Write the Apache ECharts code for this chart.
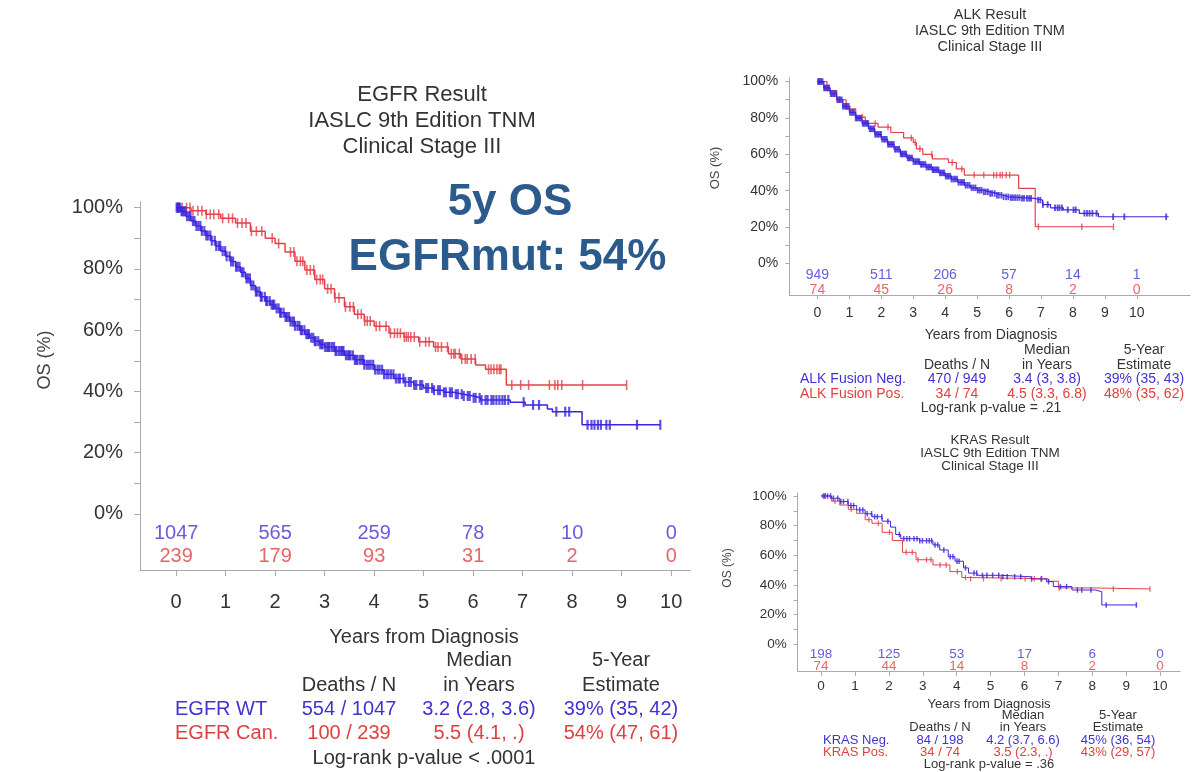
<!DOCTYPE html>
<html>
<head>
<meta charset="utf-8">
<script src="https://cdn.jsdelivr.net/npm/echarts@6/dist/echarts.min.js"></script>
<style>
  html, body { margin: 0; padding: 0; background: #ffffff; }
  #chart { width: 1203px; height: 772px; }
</style>
</head>
<body>
<div id="chart"></div>
<script>
// ---------- Kaplan-Meier step curves: [years, survival %] ----------
const egfrWT = [
  [0,100],[0.1,98.8],[0.2,97.2],[0.3,95.6],[0.4,94],[0.5,92.4],[0.6,90.9],[0.7,89.2],[0.8,87.5],
  [0.9,85.8],[1.0,84.1],[1.1,82.4],[1.2,80.7],[1.3,78.9],[1.4,76.9],[1.5,74.6],[1.6,72.6],[1.7,70.9],
  [1.8,69.5],[1.9,68.3],[2.0,67.1],[2.1,65.7],[2.2,64.3],[2.3,62.8],[2.4,61.4],[2.5,60],[2.6,58.7],
  [2.7,57.5],[2.8,56.4],[2.9,55.4],[3.0,54.5],[3.2,53.2],[3.4,51.8],[3.6,50.3],[3.8,48.7],[4.0,47.1],
  [4.2,45.6],[4.4,44.2],[4.6,43.1],[4.8,42.1],[5.0,41.1],[5.2,40.4],[5.4,39.7],[5.6,39.1],[5.8,38.5],
  [6.0,37.9],[6.15,37.2],[6.75,36.5],[7.05,35.6],[7.5,34.3],[7.6,33.4],[8.2,29.1],[9.78,29.1]
];
const egfrCan = [
  [0,100],[0.3,99],[0.6,97.8],[0.9,96.5],[1.2,95],[1.5,92.3],[1.8,90],[2.0,88.3],[2.2,85.5],
  [2.4,82.5],[2.6,79.6],[2.8,76.5],[3.0,73.5],[3.2,70.6],[3.4,67.6],[3.6,65.2],[3.8,63],[4.0,61.3],
  [4.3,59],[4.6,57.8],[4.9,56.2],[5.2,54.5],[5.5,52.3],[5.75,50.6],[6.05,48.6],[6.25,47.2],
  [6.67,42.1],[9.1,42.1]
];
const alkNeg = [
  [0,100],[0.2,96.5],[0.4,93.3],[0.6,90],[0.8,86.4],[1.0,83],[1.2,79.9],[1.4,77],[1.6,74],[1.8,71],
  [2.0,68.3],[2.2,65.5],[2.4,62.8],[2.6,60.2],[2.8,58],[3.0,56],[3.2,54.5],[3.4,53],[3.6,51.5],
  [3.8,49.8],[4.0,48],[4.2,46.4],[4.4,44.6],[4.6,43],[4.8,41.6],[5.0,40.3],[5.2,39.4],[5.4,38.5],
  [5.6,37.5],[5.8,36.6],[6.0,36.2],[6.4,35.8],[6.8,34.9],[7.05,32.4],[7.3,30.6],[7.7,29.5],
  [8.2,27.6],[8.8,25.7],[11.0,25.7]
];
const alkPos = [
  [0,100],[0.3,95],[0.6,90],[0.9,85],[1.2,80.5],[1.5,77],[1.9,75],[2.3,72],[2.7,69],[3.0,66.5],
  [3.1,63],[3.3,60],[3.6,57.5],[4.1,55.5],[4.35,52],[4.6,48.6],[6.3,41.3],[6.82,20.2],[9.27,20.2]
];
const krasNeg = [
  [0,100],[0.3,98.5],[0.55,96.2],[0.8,93.5],[1.05,90.6],[1.3,88],[1.5,86],[1.8,83],[2.05,79],
  [2.2,74],[2.35,71.2],[2.9,69.8],[3.3,67],[3.5,63.6],[3.75,59],[3.95,56],[4.2,51.5],[4.35,48],
  [4.6,46.5],[5.3,45.5],[6.2,44],[6.65,42.2],[6.85,38.9],[7.4,36.6],[8.1,35.4],[8.28,26.5],[9.3,26.5]
];
const krasPos = [
  [0,100],[0.3,96.5],[0.55,93.9],[0.8,91],[1.05,88.3],[1.3,84],[1.5,81.6],[1.8,75.5],[2.1,70],
  [2.4,62],[2.8,57],[3.3,53.5],[3.8,49],[4.15,45],[4.3,44.2],[6.7,42.5],[7.0,38],[8.0,37.3],[9.7,37.3]
];

// ---------- censoring times (years) ----------
const egfrWTCensor = [0.01,0.03,0.04,0.06,0.08,0.11,0.13,0.16,0.19,0.22,0.26,0.29,0.34,0.37,0.41,0.45,
  0.49,0.52,0.57,0.61,0.64,0.69,0.72,0.78,0.81,0.86,0.89,0.94,0.99,1.02,1.08,1.11,1.15,1.21,1.24,1.28,
  1.33,1.36,1.42,1.45,1.49,1.52,1.56,1.61,1.63,1.68,1.71,1.73,1.79,1.82,1.84,1.89,1.93,1.96,1.98,2.03,
  2.07,2.1,2.12,2.17,2.21,2.24,2.28,2.31,2.35,2.38,2.4,2.45,2.49,2.52,2.54,2.59,2.63,2.66,2.68,2.73,
  2.77,2.8,2.82,2.87,2.91,2.94,2.96,3.01,3.05,3.08,3.1,3.15,3.19,3.22,3.24,3.29,3.33,3.36,3.38,3.43,
  3.47,3.5,3.52,3.57,3.61,3.64,3.66,3.71,3.75,3.78,3.8,3.85,3.89,3.93,3.98,4.02,4.07,4.11,4.16,4.2,
  4.25,4.29,4.34,4.39,4.44,4.49,4.52,4.59,4.63,4.7,4.74,4.81,4.85,4.93,4.97,5.05,5.09,5.17,5.21,5.29,
  5.33,5.41,5.45,5.53,5.57,5.65,5.69,5.77,5.81,5.89,5.93,6.01,6.05,6.13,6.17,6.25,6.29,6.37,6.41,6.47,
  6.53,6.59,6.64,6.71,7.02,7.21,7.33,7.68,7.86,7.94,8.31,8.39,8.45,8.52,8.58,8.69,8.76,9.31,9.78];
const egfrCanCensor = [0.12,0.21,0.28,0.34,0.44,0.52,0.61,0.69,0.76,0.86,0.94,1.06,1.14,1.24,1.33,1.41,
  1.52,1.62,1.73,1.94,2.07,2.31,2.38,2.44,2.51,2.56,2.64,2.71,2.78,2.84,2.91,2.96,3.06,3.13,3.21,3.29,
  3.42,3.51,3.58,3.67,3.74,3.81,3.86,3.92,4.04,4.11,4.24,4.33,4.41,4.47,4.53,4.61,4.65,4.69,4.74,4.81,
  4.92,5.04,5.11,5.24,5.29,5.36,5.48,5.56,5.61,5.64,5.72,5.77,5.84,5.88,5.96,6.04,6.31,6.36,6.42,6.48,
  6.53,6.56,6.78,6.96,7.12,7.54,7.65,7.71,7.79,8.21,9.1];
const alkNegCensor = [0.02,0.05,0.09,0.12,0.16,0.21,0.24,0.29,0.33,0.37,0.42,0.46,0.51,0.54,0.59,0.63,
  0.68,0.71,0.76,0.8,0.85,0.89,0.93,0.98,1.02,1.07,1.11,1.15,1.2,1.24,1.29,1.33,1.37,1.42,1.46,1.51,
  1.55,1.59,1.64,1.68,1.73,1.77,1.81,1.86,1.9,1.95,1.99,2.03,2.08,2.12,2.17,2.21,2.25,2.3,2.34,2.39,
  2.43,2.47,2.52,2.56,2.61,2.65,2.69,2.74,2.78,2.83,2.87,2.91,2.96,3.01,3.06,3.1,3.15,3.19,3.24,3.28,
  3.33,3.38,3.42,3.47,3.51,3.56,3.61,3.65,3.7,3.74,3.79,3.84,3.88,3.93,3.97,4.02,4.07,4.11,4.16,4.2,
  4.26,4.31,4.37,4.42,4.48,4.53,4.59,4.64,4.7,4.76,4.83,4.89,4.95,5.02,5.08,5.14,5.21,5.27,5.34,5.41,
  5.47,5.55,5.62,5.68,5.76,5.83,5.91,5.98,6.06,6.12,6.19,6.26,6.33,6.41,6.47,6.56,6.63,6.69,6.91,6.98,
  7.06,7.21,7.44,7.52,7.58,7.66,7.84,8.02,8.09,8.36,8.44,8.52,8.61,8.74,9.26,9.61,10.92];
const alkPosCensor = [0.62,1.02,1.41,1.81,2.21,2.94,3.06,3.21,3.58,4.22,4.52,4.91,5.21,5.52,5.61,5.72,
  5.79,5.91,6.02,6.92,8.28,9.27];
const krasNegCensor = [0.06,0.11,0.19,0.28,0.36,0.49,0.58,0.66,0.79,0.88,0.96,1.14,1.23,1.36,1.49,1.58,
  1.66,1.79,1.97,2.31,2.44,2.53,2.61,2.74,2.83,2.91,2.99,3.11,3.19,3.26,3.36,3.44,3.62,3.81,3.89,4.01,
  4.07,4.26,4.51,4.59,4.76,4.89,5.06,5.24,5.36,5.49,5.71,5.89,6.21,6.49,6.71,7.06,7.24,7.56,7.69,7.96,
  8.41,9.3];
const krasPosCensor = [0.12,0.41,0.89,1.41,1.69,2.02,2.51,2.69,2.86,3.11,3.24,3.51,3.69,4.02,4.26,4.41,
  4.79,5.31,6.02,6.29,6.51,7.02,8.62,9.7];

// ---------- numbers at risk ----------
const riskYears = [0, 2, 4, 6, 8, 10];
const egfrRiskWT = [1047, 565, 259, 78, 10, 0];
const egfrRiskCan = [239, 179, 93, 31, 2, 0];
const alkRiskNeg = [949, 511, 206, 57, 14, 1];
const alkRiskPos = [74, 45, 26, 8, 2, 0];
const krasRiskNeg = [198, 125, 53, 17, 6, 0];
const krasRiskPos = [74, 44, 14, 8, 2, 0];

// ---------- axis ticks ----------
const yearTicks = [0, 1, 2, 3, 4, 5, 6, 7, 8, 9, 10];
const pctLabels = [0, 20, 40, 60, 80, 100];
const pctTicks = [0, 10, 20, 30, 40, 50, 60, 70, 80, 90, 100];

// ---------- titles and summary tables ----------
const egfrTitle = ['EGFR Result', 'IASLC 9th Edition TNM', 'Clinical Stage III'];
const alkTitle = ['ALK Result', 'IASLC 9th Edition TNM', 'Clinical Stage III'];
const krasTitle = ['KRAS Result', 'IASLC 9th Edition TNM', 'Clinical Stage III'];
const headTop = ['Median', '5-Year'];
const headBottom = ['Deaths / N', 'in Years', 'Estimate'];
const egfrGroups = ['EGFR WT', 'EGFR Can.'];
const egfrDeaths = ['554 / 1047', '100 / 239'];
const egfrMedian = ['3.2 (2.8, 3.6)', '5.5 (4.1, .)'];
const egfrFiveYear = ['39% (35, 42)', '54% (47, 61)'];
const egfrPValue = 'Log-rank p-value < .0001';
const alkGroups = ['ALK Fusion Neg.', 'ALK Fusion Pos.'];
const alkDeaths = ['470 / 949', '34 / 74'];
const alkMedian = ['3.4 (3, 3.8)', '4.5 (3.3, 6.8)'];
const alkFiveYear = ['39% (35, 43)', '48% (35, 62)'];
const alkPValue = 'Log-rank p-value = .21';
const krasGroups = ['KRAS Neg.', 'KRAS Pos.'];
const krasDeaths = ['84 / 198', '34 / 74'];
const krasMedian = ['4.2 (3.7, 6.6)', '3.5 (2.3, .)'];
const krasFiveYear = ['45% (36, 54)', '43% (29, 57)'];
const krasPValue = 'Log-rank p-value = .36';
const highlight = ['5y OS', 'EGFRmut: 54%'];

// ---------- styling ----------
const BLUE = '#3a26dc';
const RED = '#e5404a';
const BLUE_TXT = '#4133d2';
const RED_TXT = '#e0403f';
const INK = '#333333';
const AXIS = '#aaaaaa';
const NAVY = '#2b5b8d';
const FONT = '"Liberation Sans", Arial, sans-serif';

// value of a step curve at time t (the last step at or before t)
function stepAt(curve, t) {
  let v = curve[0][1];
  for (const p of curve) { if (p[0] <= t) v = p[1]; else break; }
  return v;
}

const panels = [
  {
    grid: { left: 140, top: 201.5, width: 550, height: 368.5 },
    x: [-0.73, 10.38], y: [-18.3, 102],
    font: 20, xMargin: 22, yMargin: 17, tickLen: 6, markH: 10, markW: [1.6, 2.2], lineW: 1.5,
    riskRows: [-6.5, -14],
    curves: [egfrCan, egfrWT], censors: [egfrCanCensor, egfrWTCensor],
    risk: [egfrRiskWT, egfrRiskCan]
  },
  {
    grid: { left: 789.3, top: 77.9, width: 400.8, height: 217.1 },
    x: [-0.88, 11.67], y: [-17.3, 102],
    font: 14, xMargin: 11, yMargin: 11, tickLen: 4, markH: 6.5, markW: [1.4, 1.9], lineW: 1.2,
    riskRows: [-6.3, -14.6],
    curves: [alkPos, alkNeg], censors: [alkPosCensor, alkNegCensor],
    risk: [alkRiskNeg, alkRiskPos]
  },
  {
    grid: { left: 797.7, top: 493, width: 382.4, height: 178.7 },
    x: [-0.69, 10.59], y: [-18.5, 102],
    font: 13.5, xMargin: 8, yMargin: 11, tickLen: 4, markH: 5.5, markW: [1.3, 1.5], lineW: 1,
    riskRows: [-6.7, -15.1],
    curves: [krasPos, krasNeg], censors: [krasPosCensor, krasNegCensor],
    risk: [krasRiskNeg, krasRiskPos]
  }
];

const grids = [], xAxes = [], yAxes = [], series = [];
panels.forEach((p, i) => {
  grids.push(Object.assign({ containLabel: false }, p.grid));
  xAxes.push({
    type: 'value', gridIndex: i, min: p.x[0], max: p.x[1],
    axisLine: { show: true, onZero: false, lineStyle: { color: AXIS, width: 1 } },
    axisTick: { show: true, length: p.tickLen, customValues: yearTicks, lineStyle: { color: AXIS } },
    axisLabel: { show: true, customValues: yearTicks, margin: p.xMargin, color: INK,
      fontFamily: FONT, fontSize: p.font },
    splitLine: { show: false }
  });
  yAxes.push({
    type: 'value', gridIndex: i, min: p.y[0], max: p.y[1],
    axisLine: { show: true, onZero: false, lineStyle: { color: AXIS, width: 1 } },
    axisTick: { show: true, length: p.tickLen, customValues: pctTicks, lineStyle: { color: AXIS } },
    axisLabel: { show: true, customValues: pctLabels, margin: p.yMargin, color: INK,
      fontFamily: FONT, fontSize: p.font, formatter: v => v + '%' },
    splitLine: { show: false }
  });
  const colors = [RED, BLUE];
  p.curves.forEach((c, k) => {
    series.push({
      type: 'line', xAxisIndex: i, yAxisIndex: i, data: c, step: 'end',
      symbol: 'none', silent: true, z: 3,
      lineStyle: { color: colors[k], width: p.lineW }
    });
    series.push({
      type: 'scatter', xAxisIndex: i, yAxisIndex: i, silent: true, z: 4,
      data: p.censors[k].map(t => [t, stepAt(c, t)]),
      symbol: 'rect', symbolSize: [p.markW[k], p.markH],
      itemStyle: { color: colors[k] }
    });
  });
  const riskColors = [BLUE_TXT, RED_TXT];
  p.risk.forEach((vals, k) => {
    series.push({
      type: 'scatter', xAxisIndex: i, yAxisIndex: i, silent: true,
      data: riskYears.map((yr, j) => [yr, p.riskRows[k], vals[j]]),
      symbolSize: 1, itemStyle: { color: 'rgba(0,0,0,0)' },
      label: { show: true, position: 'inside', formatter: d => String(d.value[2]),
        color: riskColors[k], fontFamily: FONT, fontSize: p.font }
    });
  });
});

// ---------- text blocks ----------
const graphics = [];
function txt(s, x, y, font, color, align, extra) {
  graphics.push(Object.assign({
    type: 'text', x: x, y: y, silent: true,
    style: { text: s, fill: color, font: font,
      align: align || 'center', verticalAlign: 'middle' }
  }, extra || {}));
}
function block(title, groups, deaths, median, five, pval, L) {
  const f = L.font + 'px ' + FONT;
  title.forEach((s, k) => txt(s, L.cx, L.titleY[k], L.titleFont + 'px ' + FONT, INK));
  txt('OS (%)', L.osX, L.osY, L.osFont + 'px ' + FONT, '#444', 'center', { rotation: Math.PI / 2 });
  txt('Years from Diagnosis', L.cx2, L.rows[0], f, INK);
  txt(headTop[0], L.cols[1], L.rows[1], f, INK);
  txt(headTop[1], L.cols[2], L.rows[1], f, INK);
  headBottom.forEach((s, k) => txt(s, L.cols[k], L.rows[2], f, INK));
  const c = [BLUE_TXT, RED_TXT];
  groups.forEach((g, r) => {
    const y = L.rows[3 + r];
    txt(g, L.labelX, y, f, c[r], 'left');
    txt(deaths[r], L.cols[0], y, f, c[r]);
    txt(median[r], L.cols[1], y, f, c[r]);
    txt(five[r], L.cols[2], y, f, c[r]);
  });
  txt(pval, L.cx2, L.rows[5], f, INK);
}
block(egfrTitle, egfrGroups, egfrDeaths, egfrMedian, egfrFiveYear, egfrPValue, {
  cx: 422, titleY: [95, 121, 147], titleFont: 22, osX: 45, osY: 360, osFont: 18,
  cx2: 424, font: 20, cols: [349, 479, 621], rows: [637, 660, 685, 709, 733, 758], labelX: 175
});
block(alkTitle, alkGroups, alkDeaths, alkMedian, alkFiveYear, alkPValue, {
  cx: 990, titleY: [15, 30.5, 46.5], titleFont: 14.5, osX: 715, osY: 168, osFont: 13,
  cx2: 991, font: 14, cols: [957, 1047, 1144], rows: [335, 350, 365, 379.5, 394, 408.5], labelX: 800
});
block(krasTitle, krasGroups, krasDeaths, krasMedian, krasFiveYear, krasPValue, {
  cx: 990, titleY: [440, 453, 466], titleFont: 13.5, osX: 728, osY: 568, osFont: 12,
  cx2: 989, font: 13, cols: [940, 1023, 1118], rows: [704, 715.5, 727.5, 740, 752, 764], labelX: 823
});
txt(highlight[0], 510, 203, 'bold 44px ' + FONT, NAVY);
txt(highlight[1], 507.5, 258, 'bold 44px ' + FONT, NAVY);

const chart = echarts.init(document.getElementById('chart'), null, { renderer: 'canvas' });
chart.setOption({
  backgroundColor: '#ffffff',
  animation: false,
  grid: grids,
  xAxis: xAxes,
  yAxis: yAxes,
  series: series,
  graphic: { elements: graphics }
});
</script>
</body>
</html>
